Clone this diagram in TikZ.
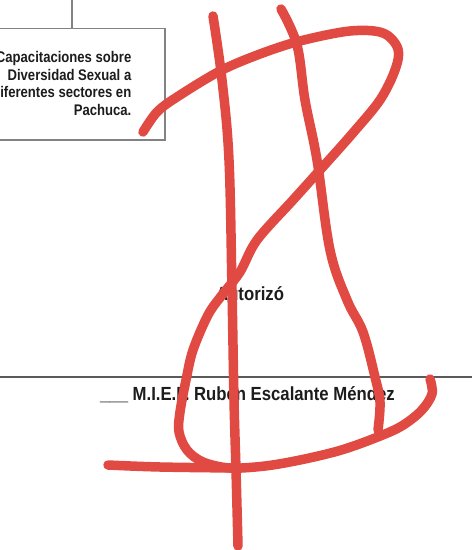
\documentclass[tikz,border=0pt]{standalone}
\usepackage{fontspec}
\setmainfont{Liberation Sans}
\newfontfamily\narrowsans[FakeStretch=0.85]{Liberation Sans}
\newfontfamily\namesans[FakeStretch=0.88]{Liberation Sans}
\definecolor{inkred}{RGB}{224,74,66}
\definecolor{boxgray}{RGB}{130,130,130}
\definecolor{linegray}{RGB}{90,90,90}
\definecolor{textdark}{RGB}{28,28,28}
\begin{document}
\begin{tikzpicture}[x=1pt,y=-1pt,
  boxline/.style={draw=boxgray,line width=1.3pt},
  boxtext/.style={font=\narrowsans\bfseries\fontsize{15.4}{17.5}\selectfont,text=textdark,align=right,inner sep=0pt},
  signtext/.style={font=\namesans\bfseries\fontsize{19}{22}\selectfont,text=textdark,inner sep=0pt},
  inkstroke/.style={draw=inkred,line width=9.5pt,line cap=round,line join=round}]
\useasboundingbox (0,0) rectangle (472,550);
% boxes
\draw[boxline] (-5,-5) rectangle (72,28.5);
\draw[boxline] (-5,28.5) rectangle (165,140);
\node[boxtext,anchor=base east] (cap) at (131.5,115) {Capacitaciones sobre\\Diversidad Sexual a\\iferentes sectores en\\Pachuca.};
% signature line and texts
\draw[draw=linegray,line width=1.2pt] (0,377) -- (472,377);
\node[signtext,anchor=base west] (aut) at (216,300) {Autorizó};
\node[signtext,anchor=base west] (name) at (100,400) {\_\_\_ M.I.E.F. Rubén Escalante Méndez};
% signature strokes
\draw[inkstroke] plot[smooth,tension=0.6] coordinates {(213,16) (222,80) (229,160) (232,290) (234,400) (236,470) (238,546)};
\draw[inkstroke] plot[smooth,tension=0.6] coordinates {(281,9) (297,45) (305,100) (317,160) (330,250) (347,300) (363,332) (375,377) (380,402) (378,430)};
\draw[inkstroke] plot[smooth,tension=0.55] coordinates {(143,132) (157,112) (177,97) (220,71) (260,54) (300,41) (350,31) (383,33) (398,49) (395,70) (380,100) (352,134) (320,170) (293,200) (257,240) (240,272) (222,295) (208,315) (193,350) (186,380) (180,412) (179,432) (187,450) (203,462) (230,468) (265,466) (300,460) (338,451) (370,440) (400,427) (421,411) (432,394) (430,379)};
\draw[inkstroke] plot[smooth,tension=0.6] coordinates {(108,465) (160,467) (235,468)};
\end{tikzpicture}
\end{document}
